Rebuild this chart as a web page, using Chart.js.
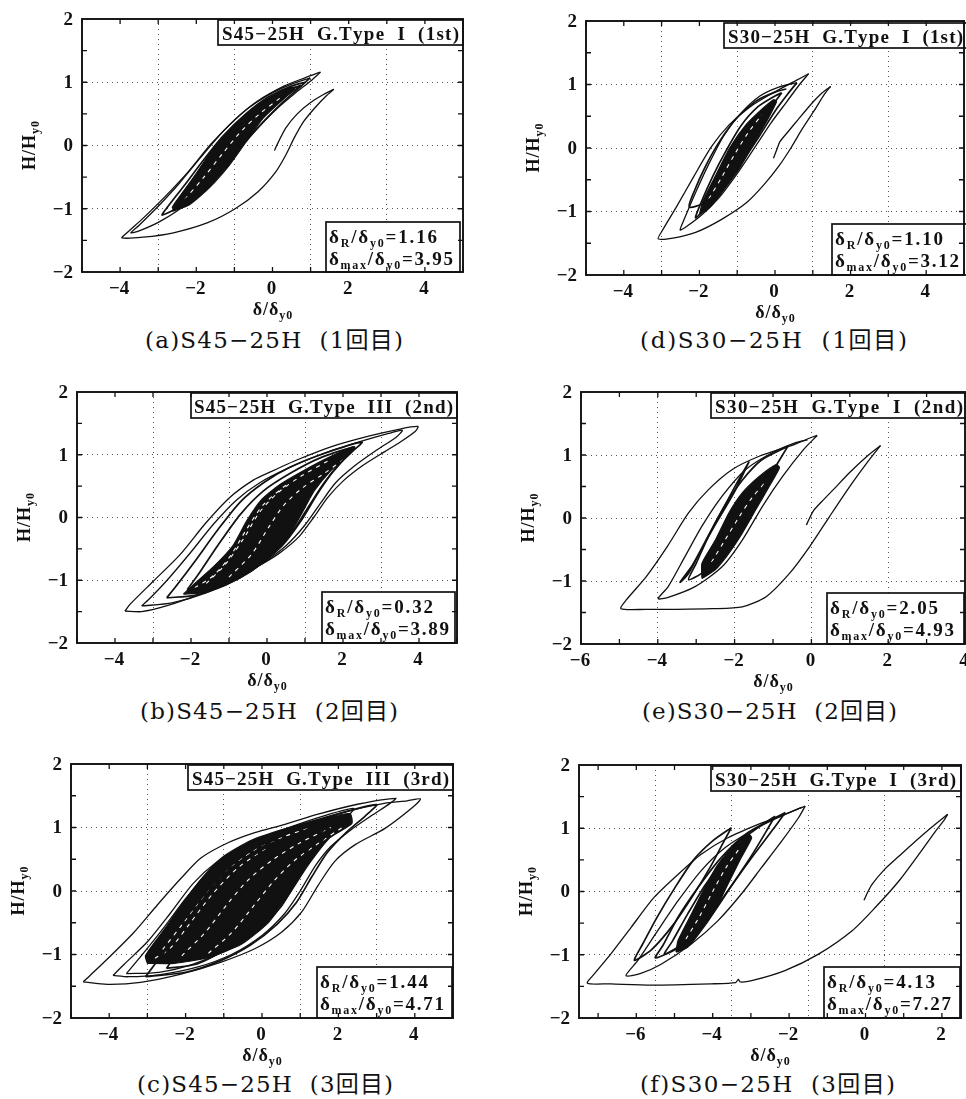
<!DOCTYPE html>
<html><head><meta charset="utf-8">
<script src="https://cdn.jsdelivr.net/npm/chart.js@4.4.1/dist/chart.umd.min.js"></script>
<style>
html,body{margin:0;padding:0;background:#fff}
body{width:966px;height:1099px;position:relative;overflow:hidden}
canvas{position:absolute}
.cap{position:absolute;font-family:'DejaVu Serif','Noto Sans CJK JP',serif;font-size:23px;color:#111;white-space:pre;line-height:26px}
</style></head><body>
<script>
// ---------------- DATA ----------------
const yTickLabels = [-2, -1, 0, 1, 2];
const xTickLabelsStd = [-4, -2, 0, 2, 4];
const xTickLabelsE = [-6, -4, -2, 0, 2, 4];
const xTickLabelsF = [-6, -4, -2, 0, 2];
const ratioR   = ['1.16', '1.10', '0.32', '2.05', '1.44', '4.13'];
const ratioMax = ['3.95', '3.12', '3.89', '4.93', '4.71', '7.27'];

// (a) S45-25H 1st
const aInit  = [[0.05,-0.08],[0.15,0.05],[0.35,0.28],[0.65,0.5],[1.0,0.68],[1.35,0.81],[1.61,0.89]];
const aOuter = [[1.61,0.89],[1.4,0.78],[1.12,0.6],[0.82,0.38],[0.57,0.12],[0.35,-0.15],[0.08,-0.42],[-0.38,-0.73],[-0.98,-1.0],[-1.7,-1.22],[-2.6,-1.38],[-3.4,-1.45],[-3.95,-1.46],[-3.82,-1.38],[-3.38,-1.14],[-2.84,-0.82],[-2.22,-0.42],[-1.62,0.02],[-1.0,0.4],[-0.4,0.7],[0.3,0.94],[0.85,1.07],[1.26,1.16]];
const aLoop1 = [[1.26,1.16],[1.0,1.02],[0.6,0.83],[0.15,0.6],[-0.35,0.3],[-0.95,-0.1],[-1.55,-0.5],[-2.25,-0.92],[-2.95,-1.2],[-3.5,-1.35],[-3.72,-1.38],[-3.5,-1.26],[-3.0,-0.96],[-2.45,-0.6],[-1.9,-0.2],[-1.3,0.22],[-0.7,0.56],[-0.1,0.8],[0.5,0.97],[0.99,1.07]];
const aLoop2 = [[0.99,1.07],[0.7,0.91],[0.3,0.7],[-0.2,0.4],[-0.8,0.0],[-1.4,-0.4],[-2.0,-0.76],[-2.6,-1.02],[-2.9,-1.1],[-2.75,-0.97],[-2.3,-0.62],[-1.8,-0.22],[-1.3,0.15],[-0.7,0.5],[-0.1,0.77],[0.45,0.93],[0.85,1.0]];
const aLoop3 = [[0.75,0.95],[0.3,0.75],[-0.3,0.42],[-0.9,0.02],[-1.5,-0.4],[-2.1,-0.76],[-2.62,-0.98],[-2.42,-0.8],[-1.95,-0.42],[-1.4,0.02],[-0.8,0.42],[-0.2,0.71],[0.35,0.87],[0.75,0.95]];
const aCore  = [[-2.63,-1.04],[-2.5,-0.88],[-2.02,-0.46],[-1.49,0.01],[-0.95,0.35],[-0.34,0.66],[0.37,0.9],[0.6,0.92],[0.22,0.7],[-0.25,0.43],[-0.69,0.06],[-1.13,-0.31],[-1.66,-0.67],[-2.19,-0.94],[-2.63,-1.04]];
const aStreaks = [[[-2.3,-0.85],[-1.8,-0.5],[-1.3,-0.12],[-0.8,0.24],[-0.3,0.52],[0.2,0.75]]];

// (d) S30-25H 1st
const dInit  = [[-0.04,-0.16],[0.05,-0.02],[0.13,0.1],[0.35,0.26],[0.6,0.44],[1.0,0.72],[1.25,0.87],[1.47,0.97]];
const dOuter = [[1.47,0.97],[1.3,0.84],[1.05,0.6],[0.72,0.3],[0.42,0.0],[0.12,-0.27],[-0.28,-0.57],[-0.75,-0.86],[-1.4,-1.12],[-2.1,-1.33],[-2.7,-1.42],[-3.09,-1.43],[-2.98,-1.3],[-2.6,-0.92],[-2.15,-0.45],[-1.68,0.02],[-1.22,0.36],[-0.68,0.64],[-0.05,0.87],[0.55,1.06],[0.89,1.17]];
const dLoop1 = [[0.89,1.17],[0.65,1.0],[0.3,0.72],[-0.1,0.4],[-0.5,0.04],[-0.95,-0.36],[-1.45,-0.76],[-1.95,-1.06],[-2.35,-1.24],[-2.51,-1.29],[-2.4,-1.12],[-2.1,-0.7],[-1.75,-0.25],[-1.35,0.2],[-0.9,0.55],[-0.4,0.82],[0.1,0.96],[0.58,1.03]];
const dLoop2 = [[0.58,1.03],[0.35,0.86],[0.0,0.58],[-0.4,0.2],[-0.85,-0.2],[-1.35,-0.58],[-1.85,-0.86],[-2.27,-0.93],[-2.15,-0.7],[-1.85,-0.3],[-1.45,0.12],[-1.0,0.48],[-0.5,0.74],[0.0,0.88],[0.3,0.93]];
const dLoop3 = [[0.18,0.87],[-0.1,0.65],[-0.5,0.3],[-0.9,-0.1],[-1.3,-0.5],[-1.75,-0.88],[-2.1,-1.1],[-1.95,-0.85],[-1.65,-0.45],[-1.3,-0.05],[-0.9,0.35],[-0.45,0.65],[0.0,0.82],[0.18,0.87]];
const dCore  = [[-2.0,-1.05],[-1.91,-0.84],[-1.56,-0.42],[-1.2,0.0],[-0.76,0.37],[-0.31,0.63],[-0.04,0.76],[0.04,0.73],[-0.22,0.42],[-0.58,0.05],[-0.93,-0.31],[-1.38,-0.68],[-1.73,-0.94],[-2.0,-1.05]];
const dStreaks = [[[-1.75,-0.8],[-1.4,-0.45],[-1.05,-0.08],[-0.7,0.25],[-0.35,0.52]]];

// (b) S45-25H 2nd
const bOuter = [[-3.74,-1.49],[-3.6,-1.38],[-3.0,-1.02],[-2.3,-0.6],[-1.6,-0.08],[-0.98,0.32],[-0.35,0.6],[0.1,0.73],[0.8,0.92],[1.7,1.13],[2.7,1.3],[3.5,1.41],[3.97,1.45],[3.9,1.37],[3.5,1.2],[3.1,1.05],[2.5,0.82],[2.0,0.58],[1.6,0.32],[1.25,0.02],[0.85,-0.3],[0.3,-0.58],[-0.3,-0.8],[-1.0,-1.02],[-1.8,-1.23],[-2.65,-1.41],[-3.3,-1.5],[-3.74,-1.49]];
const bLoop1 = [[-3.3,-1.41],[-3.1,-1.3],[-2.6,-0.98],[-2.0,-0.55],[-1.4,-0.1],[-0.8,0.28],[-0.2,0.55],[0.5,0.77],[1.4,1.0],[2.4,1.2],[3.2,1.34],[3.56,1.39],[3.4,1.28],[2.9,1.08],[2.3,0.82],[1.8,0.55],[1.4,0.22],[1.0,-0.12],[0.5,-0.45],[-0.1,-0.72],[-0.8,-0.97],[-1.6,-1.2],[-2.5,-1.36],[-3.3,-1.41]];
const bLoop2 = [[-2.64,-1.28],[-2.4,-1.1],[-1.9,-0.7],[-1.3,-0.2],[-0.7,0.25],[-0.1,0.55],[0.6,0.8],[1.5,1.02],[2.5,1.2],[2.3,1.08],[1.9,0.85],[1.5,0.55],[1.1,0.18],[0.7,-0.2],[0.2,-0.55],[-0.4,-0.85],[-1.1,-1.08],[-1.9,-1.24],[-2.64,-1.28]];
const bLoop3 = [[-2.1,-1.15],[-1.8,-0.9],[-1.3,-0.45],[-0.7,0.05],[-0.1,0.42],[0.6,0.7],[1.4,0.95],[2.3,1.12],[2.1,0.98],[1.7,0.7],[1.3,0.35],[0.9,-0.05],[0.4,-0.45],[-0.3,-0.8],[-1.1,-1.05],[-2.1,-1.15]];
const bCore  = [[-2.2,-1.22],[-1.9,-1.05],[-1.4,-0.78],[-0.9,-0.45],[-0.53,-0.05],[-0.15,0.28],[0.35,0.53],[0.97,0.75],[1.67,0.97],[2.29,1.13],[2.15,1.0],[1.67,0.74],[1.25,0.43],[0.9,0.05],[0.55,-0.32],[0.1,-0.6],[-0.45,-0.87],[-1.1,-1.08],[-1.7,-1.2],[-2.2,-1.22]];
const bStreaks = [
  [[-1.6,-1.05],[-1.1,-0.75],[-0.6,-0.32],[-0.2,0.08],[0.3,0.4],[0.9,0.66],[1.6,0.9]],
  [[-1.0,-0.95],[-0.4,-0.58],[0.05,-0.15],[0.45,0.2],[0.95,0.48],[1.5,0.7],[2.0,0.92]],
  [[-1.9,-1.12],[-1.4,-0.92],[-0.95,-0.6],[-0.55,-0.2],[-0.1,0.2],[0.5,0.52]]
];

// (e) S30-25H 2nd
const eInit  = [[-0.13,-0.11],[-0.03,0.02],[0.06,0.12],[0.3,0.28],[0.57,0.45],[1.01,0.73],[1.45,0.98],[1.8,1.15]];
const eOuter = [[1.8,1.15],[1.45,0.88],[1.01,0.51],[0.48,0.03],[-0.04,-0.45],[-0.57,-0.88],[-1.18,-1.25],[-1.8,-1.41],[-2.6,-1.44],[-3.5,-1.45],[-4.3,-1.45],[-4.96,-1.44],[-4.82,-1.3],[-4.3,-0.93],[-3.75,-0.45],[-3.2,0.08],[-2.68,0.45],[-2.06,0.77],[-1.36,0.98],[-0.57,1.14],[-0.04,1.27],[0.15,1.31]];
const eLoop1 = [[0.15,1.31],[-0.2,1.09],[-0.75,0.66],[-1.27,0.19],[-1.8,-0.35],[-2.32,-0.77],[-3.03,-1.09],[-3.73,-1.26],[-3.99,-1.28],[-3.73,-1.09],[-3.29,-0.61],[-2.85,-0.13],[-2.32,0.35],[-1.71,0.77],[-1.01,1.04],[-0.39,1.2],[-0.1,1.24]];
const eLoop2 = [[-0.61,1.14],[-0.9,0.85],[-1.35,0.4],[-1.8,-0.05],[-2.3,-0.5],[-2.8,-0.85],[-3.2,-0.98],[-3.0,-0.72],[-2.65,-0.25],[-2.25,0.2],[-1.8,0.6],[-1.3,0.92],[-0.61,1.14]];
const eLoop3 = [[-1.62,0.9],[-1.9,0.6],[-2.3,0.15],[-2.7,-0.3],[-3.1,-0.75],[-3.42,-1.02],[-3.2,-0.88],[-2.85,-0.48],[-2.45,-0.05],[-2.0,0.42],[-1.62,0.9]];
const eCore  = [[-2.85,-0.96],[-2.85,-0.72],[-2.5,-0.35],[-2.15,0.08],[-1.8,0.4],[-1.36,0.66],[-0.92,0.85],[-0.83,0.8],[-1.1,0.5],[-1.45,0.13],[-1.8,-0.24],[-2.15,-0.56],[-2.5,-0.82],[-2.85,-0.96]];
const eStreaks = [[[-2.6,-0.7],[-2.25,-0.35],[-1.9,0.0],[-1.55,0.32],[-1.15,0.6]]];

// (c) S45-25H 3rd
const cOuter  = [[-4.68,-1.43],[-4.5,-1.33],[-3.96,-1.02],[-3.35,-0.65],[-2.74,-0.22],[-2.12,0.2],[-1.6,0.52],[-0.89,0.76],[-0.19,0.92],[0.6,1.05],[1.47,1.21],[2.53,1.37],[3.5,1.46],[3.35,1.38],[2.9,1.2],[2.3,0.95],[1.8,0.7],[1.4,0.4],[1.0,0.0],[0.6,-0.35],[0.0,-0.7],[-0.8,-1.0],[-1.7,-1.2],[-2.7,-1.32],[-3.5,-1.35],[-3.9,-1.33]];
const cOuter2 = [[-3.9,-1.33],[-3.6,-1.15],[-3.0,-0.8],[-2.4,-0.35],[-1.8,0.12],[-1.2,0.45],[-0.5,0.7],[0.3,0.9],[1.2,1.08],[2.2,1.25],[3.2,1.38],[3.8,1.42],[4.15,1.45],[3.93,1.31],[3.23,0.99],[2.44,0.73],[1.91,0.47],[1.47,0.09],[1.04,-0.33],[0.51,-0.65],[-0.19,-0.91],[-1.07,-1.12],[-2.12,-1.31],[-3.18,-1.44],[-4.05,-1.47],[-4.68,-1.43]];
const cLoop1 = [[-3.55,-1.3],[-3.2,-1.05],[-2.6,-0.6],[-2.0,-0.12],[-1.4,0.3],[-0.8,0.6],[-0.1,0.82],[0.7,1.0],[1.6,1.18],[2.4,1.3],[2.2,1.15],[1.7,0.88],[1.3,0.55],[0.9,0.15],[0.5,-0.25],[-0.1,-0.6],[-0.9,-0.92],[-1.8,-1.15],[-2.7,-1.28],[-3.55,-1.3]];
const cLoop2 = [[-3.05,-1.35],[-2.8,-1.15],[-2.3,-0.75],[-1.7,-0.25],[-1.1,0.2],[-0.5,0.5],[0.3,0.8],[1.2,1.05],[2.2,1.25],[3.0,1.36],[2.7,1.18],[2.2,0.92],[1.7,0.6],[1.3,0.22],[0.9,-0.18],[0.4,-0.52],[-0.3,-0.85],[-1.1,-1.1],[-2.0,-1.28],[-3.05,-1.35]];
const cLoop3 = [[-2.5,-1.22],[-2.2,-0.95],[-1.7,-0.5],[-1.1,0.0],[-0.5,0.38],[0.2,0.68],[1.0,0.92],[1.85,1.12],[1.6,0.95],[1.2,0.65],[0.8,0.25],[0.4,-0.15],[-0.2,-0.55],[-0.9,-0.9],[-1.7,-1.15],[-2.5,-1.22]];
const cCore  = [[-3.0,-1.14],[-3.05,-1.02],[-2.55,-0.6],[-2.05,-0.17],[-1.55,0.22],[-1.02,0.54],[-0.28,0.8],[0.6,0.98],[1.47,1.12],[2.3,1.22],[2.35,1.06],[1.78,0.84],[1.2,0.4],[0.68,-0.08],[0.16,-0.5],[-0.54,-0.84],[-1.42,-1.05],[-2.3,-1.14],[-3.0,-1.14]];
const cStreaks = [
  [[-2.6,-0.92],[-2.05,-0.5],[-1.5,-0.08],[-0.9,0.32],[-0.25,0.62],[0.5,0.84],[1.3,1.0]],
  [[-2.1,-1.02],[-1.5,-0.66],[-0.9,-0.2],[-0.35,0.18],[0.3,0.5],[1.0,0.76],[1.8,1.0]],
  [[-1.4,-0.98],[-0.8,-0.66],[-0.2,-0.22],[0.3,0.15],[0.85,0.48],[1.5,0.76],[2.1,1.0]],
  [[-2.8,-1.06],[-2.4,-0.9],[-1.9,-0.52],[-1.3,-0.05],[-0.6,0.38],[0.1,0.66]]
];

// (f) S30-25H 3rd
const fInit  = [[-0.04,-0.14],[0.05,-0.02],[0.18,0.12],[0.5,0.35],[0.88,0.56],[1.3,0.79],[1.7,1.0],[2.15,1.22]];
const fOuter = [[2.15,1.22],[2.05,1.12],[1.84,0.96],[1.4,0.59],[0.88,0.17],[0.26,-0.25],[-0.35,-0.62],[-1.23,-0.99],[-2.11,-1.25],[-2.98,-1.41],[-3.28,-1.43],[-3.33,-1.39],[-3.4,-1.44],[-4.04,-1.46],[-5.61,-1.48],[-6.67,-1.46],[-7.28,-1.45],[-7.11,-1.31],[-6.67,-0.99],[-6.14,-0.57],[-5.53,-0.09],[-4.91,0.27],[-4.3,0.59],[-3.6,0.85],[-2.81,1.06],[-2.11,1.22],[-1.58,1.35]];
const fLoop1 = [[-1.58,1.35],[-1.75,1.17],[-2.19,0.8],[-2.72,0.38],[-3.25,-0.04],[-3.86,-0.46],[-4.56,-0.83],[-5.35,-1.15],[-5.9,-1.3],[-6.27,-1.33],[-5.96,-1.09],[-5.44,-0.62],[-4.91,-0.15],[-4.3,0.33],[-3.68,0.69],[-2.98,0.96],[-2.28,1.17],[-1.67,1.33]];
const fLoop2 = [[-3.51,1.01],[-3.7,0.8],[-4.05,0.4],[-4.5,-0.05],[-5.0,-0.5],[-5.6,-0.92],[-6.05,-1.09],[-5.85,-0.85],[-5.45,-0.4],[-5.0,0.05],[-4.5,0.5],[-4.0,0.8],[-3.51,1.01]];
const fLoop3 = [[-2.37,1.19],[-2.6,0.95],[-3.0,0.55],[-3.5,0.1],[-4.0,-0.35],[-4.6,-0.75],[-5.26,-0.99],[-5.05,-0.78],[-4.65,-0.35],[-4.2,0.1],[-3.7,0.5],[-3.1,0.88],[-2.37,1.19]];
const fLoop4 = [[-2.1,1.25],[-2.4,1.0],[-2.9,0.6],[-3.5,0.1],[-4.1,-0.4],[-4.8,-0.85],[-5.5,-1.05],[-5.3,-0.85],[-4.9,-0.4],[-4.4,0.05],[-3.8,0.52],[-3.1,0.92],[-2.1,1.25]];
const fCore  = [[-4.96,-0.96],[-4.91,-0.78],[-4.56,-0.36],[-4.21,0.06],[-3.86,0.43],[-3.42,0.75],[-3.07,0.91],[-2.98,0.85],[-3.25,0.54],[-3.6,0.12],[-3.95,-0.31],[-4.3,-0.62],[-4.65,-0.88],[-4.96,-0.96]];
const fStreaks = [[[-4.7,-0.75],[-4.35,-0.4],[-4.0,0.0],[-3.65,0.38],[-3.3,0.68]]];

// ---------------- LAYOUT ----------------
const panels = [
 {key:'a', plot:[82,19,463,272],  xr:[-5,5],    xt:xTickLabelsStd, outer:[aOuter], loops:[aLoop1,aLoop2,aLoop3], core:aCore, streaks:aStreaks, init:aInit,
  title:'S45−25H  G.Type  I  (1st)',  tbox:[218,20,463,45],  tText:[222,459], abox:[326,222,460], cap:'(a)S45−25H  (1回目)', capPos:[145,403,340], idx:0},
 {key:'d', plot:[586,21,964,275], xr:[-5,5],    xt:xTickLabelsStd, outer:[dOuter], loops:[dLoop1,dLoop2,dLoop3], core:dCore, streaks:dStreaks, init:dInit,
  title:'S30−25H  G.Type  I  (1st)',  tbox:[724,23,970,48],  tText:[728,963], abox:[832,224,972], cap:'(d)S30−25H  (1回目)', capPos:[640,907,340], idx:1},
 {key:'b', plot:[77,392,457,643], xr:[-5,5],    xt:xTickLabelsStd, outer:[bOuter], loops:[bLoop1,bLoop2,bLoop3], core:bCore, streaks:bStreaks, init:null,
  title:'S45−25H  G.Type  III  (2nd)', tbox:[191,393,457,418], tText:[194,453], abox:[322,592,455], cap:'(b)S45−25H  (2回目)', capPos:[140,398,711], idx:2},
 {key:'e', plot:[581,392,965,644], xr:[-6,4],   xt:xTickLabelsE,   outer:[eOuter], loops:[eLoop1,eLoop2,eLoop3], core:eCore, streaks:eStreaks, init:eInit,
  title:'S30−25H  G.Type  I  (2nd)',  tbox:[711,393,967,418], tText:[715,963], abox:[827,593,964], cap:'(e)S30−25H  (2回目)', capPos:[642,897,711], idx:3},
 {key:'c', plot:[71,764,453,1018], xr:[-5,5],   xt:xTickLabelsStd, outer:[cOuter,cOuter2], loops:[cLoop1,cLoop2,cLoop3], core:cCore, streaks:cStreaks, init:null,
  title:'S45−25H  G.Type  III  (3rd)', tbox:[188,765,453,790], tText:[192,449], abox:[317,967,452], cap:'(c)S45−25H  (3回目)', capPos:[137,393,1084], idx:4},
 {key:'f', plot:[579,765,961,1018], xr:[-7.5,2.5], xt:xTickLabelsF, outer:[fOuter], loops:[fLoop1,fLoop2,fLoop3,fLoop4], core:fCore, streaks:fStreaks, init:fInit,
  title:'S30−25H  G.Type  I  (3rd)',  tbox:[711,766,961,791], tText:[715,956], abox:[824,967,960], cap:'(f)S30−25H  (3回目)', capPos:[640,895,1084], idx:5}
];

const SERIF = "'Liberation Serif','DejaVu Serif',serif";
const INK = '#111';

function toXY(pts){ return pts.map(p => ({x:p[0], y:p[1]})); }
function lineDs(pts, w, extra){
  return Object.assign({data:toXY(pts), borderColor:INK, backgroundColor:INK, borderWidth:w,
    pointRadius:0, pointHoverRadius:0, tension:0.25, fill:false, showLine:true}, extra||{});
}

function richWidth(ctx, runs, big, sub){
  let w = 0, n = 0;
  for (const [t, s] of runs){ ctx.font = s ? sub : big; for (const ch of t){ w += ctx.measureText(ch).width; n++; } }
  return {w, n};
}
function drawRich(ctx, runs, x, y, big, sub, drop, spacing){
  let cx = x;
  for (const [t, s] of runs){
    ctx.font = s ? sub : big;
    for (const ch of t){ ctx.fillText(ch, cx, s ? y + drop : y); cx += ctx.measureText(ch).width + spacing; }
  }
}
function drawFit(ctx, runs, x, y, target, big, sub, drop){
  const m = richWidth(ctx, runs, big, sub);
  const sp = m.n > 1 ? (target - m.w) / (m.n - 1) : 0;
  drawRich(ctx, runs, x, y, big, sub, drop, sp);
}

function decor(P, cl, ct){
  return {
    id: 'decor_' + P.key,
    afterDatasetsDraw(chart){
      const ctx = chart.ctx;
      ctx.save();
      ctx.textAlign = 'left'; ctx.textBaseline = 'alphabetic';
      // title box
      const [tx1, ty1, tx2, ty2] = P.tbox;
      ctx.fillStyle = '#fff'; ctx.fillRect(tx1-cl, ty1-ct, tx2-tx1, ty2-ty1);
      ctx.strokeStyle = INK; ctx.lineWidth = 1.7; ctx.strokeRect(tx1-cl, ty1-ct, tx2-tx1, ty2-ty1);
      ctx.fillStyle = INK;
      drawFit(ctx, [[P.title, 0]], P.tText[0]-cl, ty1-ct+19.5, P.tText[1]-P.tText[0], 'bold 19px '+SERIF, 'bold 12px '+SERIF, 0);
      // annotation box
      const [ax1, ay1, ax2] = P.abox; const ay2 = P.plot[3];
      ctx.fillStyle = '#fff'; ctx.fillRect(ax1-cl, ay1-ct, ax2-ax1, ay2-ay1);
      ctx.strokeRect(ax1-cl, ay1-ct, ax2-ax1, ay2-ay1);
      ctx.fillStyle = INK;
      const big = 'bold 19px '+SERIF, sub = 'bold 12px '+SERIF;
      drawFit(ctx, [['δ',0],['R',1],['/δ',0],['y0',1],['='+ratioR[P.idx],0]], ax1-cl+3, ay1-ct+21, 108, big, sub, 4);
      drawFit(ctx, [['δ',0],['max',1],['/δ',0],['y0',1],['='+ratioMax[P.idx],0]], ax1-cl+3, ay1-ct+43, 124, big, sub, 4);
      ctx.restore();
    },
    afterDraw(chart){
      const ctx = chart.ctx, ca = chart.chartArea, xs = chart.scales.x, ys = chart.scales.y;
      ctx.save();
      ctx.strokeStyle = INK; ctx.fillStyle = INK;
      // inward ticks
      ctx.lineWidth = 1.3; ctx.beginPath();
      for (let v = Math.ceil(P.xr[0]); v <= Math.floor(P.xr[1]); v++){
        const px = xs.getPixelForValue(v);
        ctx.moveTo(px, ca.bottom); ctx.lineTo(px, ca.bottom-5);
        ctx.moveTo(px, ca.top); ctx.lineTo(px, ca.top+5);
      }
      for (let k = -3; k <= 3; k++){
        const py = ys.getPixelForValue(k*0.5);
        ctx.moveTo(ca.left, py); ctx.lineTo(ca.left+5, py);
        ctx.moveTo(ca.right, py); ctx.lineTo(ca.right-5, py);
      }
      ctx.stroke();
      // frame
      ctx.lineWidth = 1.9;
      ctx.strokeRect(ca.left, ca.top, ca.right-ca.left, ca.bottom-ca.top);
      // tick labels
      ctx.font = 'bold 19px '+SERIF;
      const fmt = v => (v < 0 ? '−' + Math.abs(v) : String(v));
      ctx.textAlign = 'right'; ctx.textBaseline = 'middle';
      for (const v of yTickLabels) ctx.fillText(fmt(v), ca.left-9, ys.getPixelForValue(v)+1);
      ctx.textAlign = 'center';
      for (const v of P.xt) ctx.fillText(fmt(v), xs.getPixelForValue(v)-1, ca.bottom+17);
      // axis titles
      ctx.textAlign = 'left'; ctx.textBaseline = 'alphabetic';
      const bigB = 'bold 18px '+SERIF, subB = 'bold 12px '+SERIF;
      const xr = [['δ/δ',0],['y0',1]];
      const mx = richWidth(ctx, xr, bigB, subB);
      const sp = 1;
      const wx = mx.w + sp*(mx.n-1);
      drawRich(ctx, xr, (ca.left+ca.right)/2 - wx/2, ca.bottom+43, bigB, subB, 4, sp);
      const yr = [['H/H',0],['y0',1]];
      const my = richWidth(ctx, yr, bigB, subB);
      const wy = my.w + sp*(my.n-1);
      ctx.translate(ca.left-47, (ca.top+ca.bottom)/2);
      ctx.rotate(-Math.PI/2);
      drawRich(ctx, yr, -wy/2, 0, bigB, subB, 4, sp);
      ctx.restore();
    }
  };
}

for (const P of panels){
  const [l, t, r, b] = P.plot;
  const cl = Math.max(0, l-80), ct = t-14, cr = Math.min(966, r+8), cb = b+52;
  const cv = document.createElement('canvas');
  cv.width = cr-cl; cv.height = cb-ct;
  cv.style.left = cl+'px'; cv.style.top = ct+'px';
  document.body.appendChild(cv);

  const datasets = [];
  for (const o of P.outer) datasets.push(lineDs(o, 1.3));
  if (P.init) datasets.push(lineDs(P.init, 1.3));
  P.loops.forEach((lp, i) => datasets.push(lineDs(lp, i === 0 ? 1.3 : 1.7)));
  for (const s of P.streaks) datasets.push(lineDs(s, 1.1, {borderColor:'#fff', borderDash:[4,5], tension:0.3}));
  datasets.push(lineDs(P.core, 1.2, {fill:'shape', tension:0.2}));

  const gridCommon = {color:'#555', lineWidth:1, drawTicks:false};
  new Chart(cv, {
    type:'scatter',
    data:{datasets},
    options:{
      responsive:false, animation:false, devicePixelRatio:1, events:[],
      layout:{padding:{left:l-cl, top:t-ct, right:cr-r, bottom:cb-b}},
      plugins:{legend:{display:false}, tooltip:{enabled:false}, title:{display:false}},
      scales:{
        x:{type:'linear', min:P.xr[0], max:P.xr[1], afterFit:s=>{s.height=0;},
           ticks:{display:false, stepSize:2}, grid:gridCommon, border:{display:false, dash:[1,4]}},
        y:{type:'linear', min:-2, max:2, afterFit:s=>{s.width=0;},
           ticks:{display:false, stepSize:1}, grid:gridCommon, border:{display:false, dash:[1,4]}}
      }
    },
    plugins:[decor(P, cl, ct)]
  });

  // caption as real HTML text, stretched to the measured width
  const d = document.createElement('div');
  d.className = 'cap'; d.textContent = P.cap;
  document.body.appendChild(d);
  const w0 = d.getBoundingClientRect().width;
  const n = [...P.cap].length;
  const target = P.capPos[1]-P.capPos[0];
  d.style.letterSpacing = ((target - w0)/(n-1)).toFixed(2)+'px';
  d.style.left = P.capPos[0]+'px';
  d.style.top = (P.capPos[2]-13)+'px';
}
</script>
</body></html>
